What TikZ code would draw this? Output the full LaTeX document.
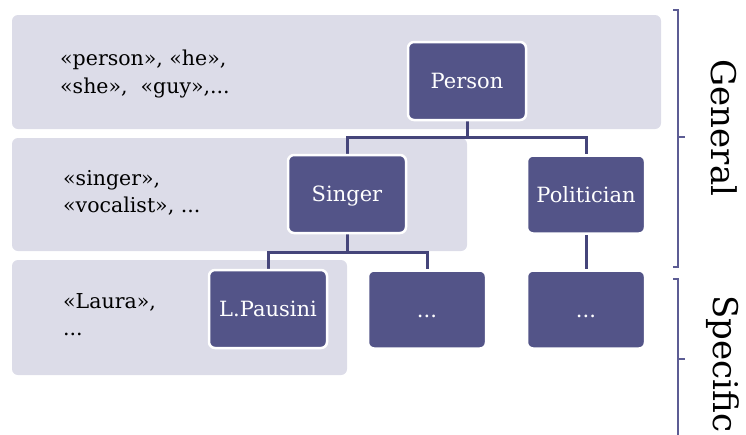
\documentclass[tikz,border=0pt]{standalone}
\usepackage{fontspec}
\setmainfont{DejaVu Serif}
\pgfdeclarelayer{bands}
\pgfdeclarelayer{links}
\pgfsetlayers{bands,links,main}
\definecolor{bandfill}{HTML}{DCDCE8}
\definecolor{boxfill}{HTML}{535488}
\definecolor{linkcol}{HTML}{45457A}
\definecolor{brkcol}{HTML}{5C5C94}
\tikzset{
  concept/.style={draw=white, line width=2.5pt, fill=boxfill, rounded corners=6pt,
    minimum width=118pt, minimum height=78pt, inner sep=0pt, text=white,
    font=\fontsize{21}{25}\selectfont, text height=15.3pt, text depth=0pt},
  band/.style={fill=bandfill, rounded corners=6pt},
  link/.style={draw=linkcol, line width=3pt},
  brk/.style={draw=brkcol, line width=1.2pt},
  word/.style={anchor=base west, inner sep=0pt, font=\fontsize{20.5}{25}\selectfont},
  level/.style={anchor=base, inner sep=0pt, rotate=-90, font=\fontsize{34}{40}\selectfont}
}
\begin{document}
\begin{tikzpicture}[x=1pt, y=-1pt]
\useasboundingbox (0,0) rectangle (746,434);

% concept boxes
\node[concept] (person) at (467,81) {Person};
\node[concept] (singer) at (347,194) {Singer};
\node[concept] (politician) at (586,194.5) {Politician};
\node[concept] (pausini) at (268,309) {L.Pausini};
\node[concept] (dotsA) at (427,309.5) {...};
\node[concept] (dotsB) at (586,309.5) {...};

% background bands
\begin{pgfonlayer}{bands}
  \path[band] (12,15) rectangle (661,129);
  \path[band] (12,138) rectangle (467,251);
  \path[band] (12,260) rectangle (347,375);
\end{pgfonlayer}

% tree connectors
\coordinate (j1) at (467,137);
\coordinate (j2) at (347,252);
\begin{pgfonlayer}{links}
  \draw[link] (person.south) -- (j1) -| (singer.north);
  \draw[link] (j1) -| (politician.north);
  \draw[link] (singer.south) -- (j2) -| (pausini.north);
  \draw[link] (j2) -| (dotsA.north);
  \draw[link] (politician.south) -- (dotsB.north);
\end{pgfonlayer}

% example words per level
\node[word] (w1a) at (60,65) {«person», «he»,};
\node[word] (w1b) at (60,93) {«she»,~ «guy»,...};
\node[word] (w2a) at (63,185) {«singer»,};
\node[word] (w2b) at (63,212) {«vocalist», ...};
\node[word] (w3a) at (63,308) {«Laura»,};
\node[word] (w3b) at (63,335) {...};

% level brackets
\coordinate (g0) at (673,10);
\coordinate (g1) at (678,10);
\coordinate (g2) at (678,267);
\coordinate (g3) at (673,267);
\coordinate (gm) at (678,137);
\coordinate (gt) at (685,137);
\draw[brk] (g0) -- (g1) -- (g2) -- (g3);
\draw[brk] (gm) -- (gt);
\coordinate (s0) at (673,279);
\coordinate (s1) at (678,279);
\coordinate (s2) at (678,440);
\coordinate (sm) at (678,359);
\coordinate (st) at (685,359);
\draw[brk] (s0) -- (s1) -- (s2);
\draw[brk] (sm) -- (st);

\node[level] (general) at (711,128) {General};
\node[level] (specific) at (713,364) {Specific};
\end{tikzpicture}
\end{document}
